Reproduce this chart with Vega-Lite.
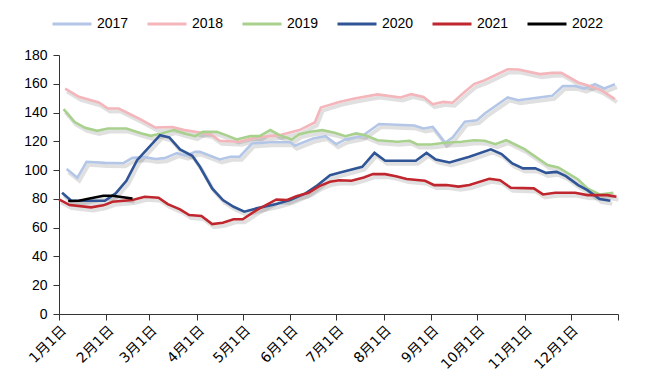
{
  "$schema": "https://vega.github.io/schema/vega-lite/v6.json",
  "width": 559,
  "height": 259,
  "autosize": {"type": "none"},
  "padding": {"left": 59, "top": 55, "right": 40, "bottom": 75},
  "background": "white",
  "config": {
    "view": {"stroke": null},
    "axis": {"grid": false, "domainColor": "#333", "tickColor": "#333", "labelColor": "#000", "labelFont": "Liberation Sans", "labelFontSize": 14, "tickSize": 6, "domainWidth": 1, "tickWidth": 1},
    "legend": {"labelFont": "Liberation Sans", "labelFontSize": 14, "labelColor": "#000"}
  },
  "data": {"values": [
    {"date":"2021-01-06","year":"2017","value":100.7},
    {"date":"2021-01-13","year":"2017","value":94.7},
    {"date":"2021-01-19","year":"2017","value":105.8},
    {"date":"2021-01-31","year":"2017","value":105},
    {"date":"2021-02-12","year":"2017","value":104.8},
    {"date":"2021-02-18","year":"2017","value":108.5},
    {"date":"2021-02-26","year":"2017","value":109},
    {"date":"2021-03-05","year":"2017","value":107.7},
    {"date":"2021-03-11","year":"2017","value":108.3},
    {"date":"2021-03-19","year":"2017","value":111.8},
    {"date":"2021-03-25","year":"2017","value":110},
    {"date":"2021-03-31","year":"2017","value":112.7},
    {"date":"2021-04-03","year":"2017","value":112.7},
    {"date":"2021-04-16","year":"2017","value":107.4},
    {"date":"2021-04-23","year":"2017","value":109.3},
    {"date":"2021-04-29","year":"2017","value":109.3},
    {"date":"2021-05-07","year":"2017","value":118.5},
    {"date":"2021-05-19","year":"2017","value":119.4},
    {"date":"2021-06-01","year":"2017","value":119.4},
    {"date":"2021-06-04","year":"2017","value":116.9},
    {"date":"2021-06-16","year":"2017","value":122},
    {"date":"2021-06-24","year":"2017","value":123.6},
    {"date":"2021-07-01","year":"2017","value":118},
    {"date":"2021-07-07","year":"2017","value":121.3},
    {"date":"2021-07-18","year":"2017","value":123.6},
    {"date":"2021-07-29","year":"2017","value":132},
    {"date":"2021-08-21","year":"2017","value":131},
    {"date":"2021-08-27","year":"2017","value":128.9},
    {"date":"2021-09-02","year":"2017","value":130},
    {"date":"2021-09-10","year":"2017","value":119},
    {"date":"2021-09-15","year":"2017","value":122.7},
    {"date":"2021-09-23","year":"2017","value":133.6},
    {"date":"2021-10-01","year":"2017","value":134.7},
    {"date":"2021-10-06","year":"2017","value":139.4},
    {"date":"2021-10-21","year":"2017","value":150.5},
    {"date":"2021-10-28","year":"2017","value":148.6},
    {"date":"2021-11-19","year":"2017","value":151.6},
    {"date":"2021-11-26","year":"2017","value":158.5},
    {"date":"2021-12-04","year":"2017","value":158.5},
    {"date":"2021-12-10","year":"2017","value":156.7},
    {"date":"2021-12-17","year":"2017","value":159.7},
    {"date":"2021-12-23","year":"2017","value":156.7},
    {"date":"2021-12-30","year":"2017","value":159.7},

    {"date":"2021-01-05","year":"2018","value":156.7},
    {"date":"2021-01-14","year":"2018","value":150.9},
    {"date":"2021-01-27","year":"2018","value":147},
    {"date":"2021-02-02","year":"2018","value":142.8},
    {"date":"2021-02-09","year":"2018","value":142.8},
    {"date":"2021-02-22","year":"2018","value":135.9},
    {"date":"2021-03-05","year":"2018","value":129.6},
    {"date":"2021-03-16","year":"2018","value":130},
    {"date":"2021-03-24","year":"2018","value":127.8},
    {"date":"2021-03-31","year":"2018","value":126.6},
    {"date":"2021-04-10","year":"2018","value":125},
    {"date":"2021-04-16","year":"2018","value":120.4},
    {"date":"2021-04-29","year":"2018","value":119.7},
    {"date":"2021-05-10","year":"2018","value":122.7},
    {"date":"2021-05-25","year":"2018","value":124.3},
    {"date":"2021-06-07","year":"2018","value":127.8},
    {"date":"2021-06-17","year":"2018","value":133.1},
    {"date":"2021-06-21","year":"2018","value":143.5},
    {"date":"2021-07-03","year":"2018","value":147.4},
    {"date":"2021-07-13","year":"2018","value":149.8},
    {"date":"2021-07-28","year":"2018","value":152.6},
    {"date":"2021-08-12","year":"2018","value":150.5},
    {"date":"2021-08-19","year":"2018","value":152.8},
    {"date":"2021-08-27","year":"2018","value":150.9},
    {"date":"2021-09-02","year":"2018","value":145.8},
    {"date":"2021-09-09","year":"2018","value":147.4},
    {"date":"2021-09-15","year":"2018","value":146.8},
    {"date":"2021-09-23","year":"2018","value":154.4},
    {"date":"2021-09-29","year":"2018","value":159.8},
    {"date":"2021-10-06","year":"2018","value":162.5},
    {"date":"2021-10-21","year":"2018","value":170.1},
    {"date":"2021-10-28","year":"2018","value":169.9},
    {"date":"2021-11-11","year":"2018","value":166.7},
    {"date":"2021-11-19","year":"2018","value":167.6},
    {"date":"2021-11-25","year":"2018","value":167.6},
    {"date":"2021-12-06","year":"2018","value":160.9},
    {"date":"2021-12-15","year":"2018","value":158},
    {"date":"2021-12-21","year":"2018","value":155.6},
    {"date":"2021-12-30","year":"2018","value":149.3},

    {"date":"2021-01-04","year":"2019","value":142.4},
    {"date":"2021-01-11","year":"2019","value":133.6},
    {"date":"2021-01-18","year":"2019","value":129.4},
    {"date":"2021-01-26","year":"2019","value":127.3},
    {"date":"2021-02-02","year":"2019","value":128.9},
    {"date":"2021-02-14","year":"2019","value":128.9},
    {"date":"2021-02-24","year":"2019","value":125.5},
    {"date":"2021-03-02","year":"2019","value":123.8},
    {"date":"2021-03-09","year":"2019","value":125.5},
    {"date":"2021-03-17","year":"2019","value":127.8},
    {"date":"2021-03-24","year":"2019","value":125.5},
    {"date":"2021-03-31","year":"2019","value":123.6},
    {"date":"2021-04-05","year":"2019","value":126.6},
    {"date":"2021-04-14","year":"2019","value":126.6},
    {"date":"2021-04-20","year":"2019","value":124.3},
    {"date":"2021-04-27","year":"2019","value":121.3},
    {"date":"2021-05-06","year":"2019","value":123.6},
    {"date":"2021-05-12","year":"2019","value":123.6},
    {"date":"2021-05-19","year":"2019","value":127.8},
    {"date":"2021-05-25","year":"2019","value":124.3},
    {"date":"2021-06-02","year":"2019","value":121.3},
    {"date":"2021-06-07","year":"2019","value":125},
    {"date":"2021-06-14","year":"2019","value":126.6},
    {"date":"2021-06-22","year":"2019","value":127.8},
    {"date":"2021-06-30","year":"2019","value":126},
    {"date":"2021-07-07","year":"2019","value":123.6},
    {"date":"2021-07-14","year":"2019","value":125.5},
    {"date":"2021-07-20","year":"2019","value":124.3},
    {"date":"2021-07-28","year":"2019","value":120.8},
    {"date":"2021-08-10","year":"2019","value":119.7},
    {"date":"2021-08-18","year":"2019","value":120.4},
    {"date":"2021-08-23","year":"2019","value":117.8},
    {"date":"2021-09-01","year":"2019","value":117.8},
    {"date":"2021-09-10","year":"2019","value":119},
    {"date":"2021-09-21","year":"2019","value":119.7},
    {"date":"2021-09-29","year":"2019","value":120.8},
    {"date":"2021-10-06","year":"2019","value":120.4},
    {"date":"2021-10-13","year":"2019","value":118},
    {"date":"2021-10-20","year":"2019","value":120.8},
    {"date":"2021-11-01","year":"2019","value":114.6},
    {"date":"2021-11-16","year":"2019","value":103.5},
    {"date":"2021-11-23","year":"2019","value":101.9},
    {"date":"2021-12-06","year":"2019","value":93.5},
    {"date":"2021-12-12","year":"2019","value":87.3},
    {"date":"2021-12-20","year":"2019","value":83.1},
    {"date":"2021-12-29","year":"2019","value":84.3},

    {"date":"2021-01-03","year":"2020","value":84.3},
    {"date":"2021-01-09","year":"2020","value":78.7},
    {"date":"2021-01-20","year":"2020","value":78.7},
    {"date":"2021-01-31","year":"2020","value":78.7},
    {"date":"2021-02-07","year":"2020","value":83.8},
    {"date":"2021-02-14","year":"2020","value":92.6},
    {"date":"2021-02-21","year":"2020","value":106.9},
    {"date":"2021-02-27","year":"2020","value":113.9},
    {"date":"2021-03-08","year":"2020","value":124.3},
    {"date":"2021-03-14","year":"2020","value":122.7},
    {"date":"2021-03-21","year":"2020","value":114.4},
    {"date":"2021-03-29","year":"2020","value":110},
    {"date":"2021-04-03","year":"2020","value":102.3},
    {"date":"2021-04-11","year":"2020","value":87.3},
    {"date":"2021-04-18","year":"2020","value":79.2},
    {"date":"2021-04-25","year":"2020","value":74.5},
    {"date":"2021-05-02","year":"2020","value":71.1},
    {"date":"2021-05-10","year":"2020","value":73.4},
    {"date":"2021-05-23","year":"2020","value":76.4},
    {"date":"2021-06-01","year":"2020","value":79.2},
    {"date":"2021-06-11","year":"2020","value":83.8},
    {"date":"2021-06-19","year":"2020","value":89.6},
    {"date":"2021-06-27","year":"2020","value":96.5},
    {"date":"2021-07-03","year":"2020","value":98.1},
    {"date":"2021-07-18","year":"2020","value":102.3},
    {"date":"2021-07-26","year":"2020","value":112},
    {"date":"2021-08-02","year":"2020","value":106.5},
    {"date":"2021-08-22","year":"2020","value":106.5},
    {"date":"2021-08-29","year":"2020","value":112},
    {"date":"2021-09-04","year":"2020","value":107.4},
    {"date":"2021-09-13","year":"2020","value":105.3},
    {"date":"2021-09-26","year":"2020","value":109.3},
    {"date":"2021-10-10","year":"2020","value":114.4},
    {"date":"2021-10-17","year":"2020","value":111.1},
    {"date":"2021-10-24","year":"2020","value":104.6},
    {"date":"2021-10-31","year":"2020","value":101.2},
    {"date":"2021-11-08","year":"2020","value":101.2},
    {"date":"2021-11-15","year":"2020","value":98.1},
    {"date":"2021-11-22","year":"2020","value":98.8},
    {"date":"2021-11-28","year":"2020","value":95.8},
    {"date":"2021-12-06","year":"2020","value":89.6},
    {"date":"2021-12-12","year":"2020","value":86.1},
    {"date":"2021-12-20","year":"2020","value":79.9},
    {"date":"2021-12-27","year":"2020","value":78.7},

    {"date":"2021-01-01","year":"2021","value":79.6},
    {"date":"2021-01-08","year":"2021","value":75.7},
    {"date":"2021-01-22","year":"2021","value":74.1},
    {"date":"2021-01-30","year":"2021","value":75.5},
    {"date":"2021-02-05","year":"2021","value":78},
    {"date":"2021-02-18","year":"2021","value":79.2},
    {"date":"2021-02-26","year":"2021","value":81.5},
    {"date":"2021-03-07","year":"2021","value":80.8},
    {"date":"2021-03-13","year":"2021","value":76.4},
    {"date":"2021-03-21","year":"2021","value":72.7},
    {"date":"2021-03-27","year":"2021","value":68.8},
    {"date":"2021-04-04","year":"2021","value":68.1},
    {"date":"2021-04-11","year":"2021","value":62.5},
    {"date":"2021-04-18","year":"2021","value":63.4},
    {"date":"2021-04-25","year":"2021","value":65.8},
    {"date":"2021-05-01","year":"2021","value":65.8},
    {"date":"2021-05-10","year":"2021","value":72.2},
    {"date":"2021-05-23","year":"2021","value":79.6},
    {"date":"2021-05-30","year":"2021","value":79.2},
    {"date":"2021-06-05","year":"2021","value":81.9},
    {"date":"2021-06-13","year":"2021","value":84.3},
    {"date":"2021-06-20","year":"2021","value":88.9},
    {"date":"2021-06-27","year":"2021","value":91.9},
    {"date":"2021-07-03","year":"2021","value":93},
    {"date":"2021-07-11","year":"2021","value":92.6},
    {"date":"2021-07-19","year":"2021","value":94.9},
    {"date":"2021-07-25","year":"2021","value":97.2},
    {"date":"2021-08-02","year":"2021","value":97.2},
    {"date":"2021-08-09","year":"2021","value":95.8},
    {"date":"2021-08-16","year":"2021","value":93.8},
    {"date":"2021-08-28","year":"2021","value":92.6},
    {"date":"2021-09-03","year":"2021","value":89.6},
    {"date":"2021-09-11","year":"2021","value":89.6},
    {"date":"2021-09-19","year":"2021","value":88.5},
    {"date":"2021-09-26","year":"2021","value":89.6},
    {"date":"2021-10-09","year":"2021","value":94},
    {"date":"2021-10-16","year":"2021","value":93},
    {"date":"2021-10-23","year":"2021","value":87.7},
    {"date":"2021-11-07","year":"2021","value":87.3},
    {"date":"2021-11-13","year":"2021","value":83.1},
    {"date":"2021-11-21","year":"2021","value":84.3},
    {"date":"2021-12-04","year":"2021","value":84.3},
    {"date":"2021-12-12","year":"2021","value":82.6},
    {"date":"2021-12-25","year":"2021","value":82.6},
    {"date":"2021-12-31","year":"2021","value":81.5},

    {"date":"2021-01-07","year":"2022","value":78.5},
    {"date":"2021-01-14","year":"2022","value":78.7},
    {"date":"2021-01-21","year":"2022","value":80.3},
    {"date":"2021-01-30","year":"2022","value":82.2},
    {"date":"2021-02-05","year":"2022","value":82.2},
    {"date":"2021-02-13","year":"2022","value":81},
    {"date":"2021-02-18","year":"2022","value":80.3}
  ]},
  "encoding": {
    "x": {
      "field": "date", "type": "temporal",
      "scale": {"type": "utc", "domain": [{"year": 2021, "month": 1, "date": 1, "utc": true}, {"year": 2022, "month": 1, "date": 1, "utc": true}], "nice": false},
      "axis": {
        "title": null,
        "values": [
          {"year": 2021, "month": 1, "date": 1, "utc": true},
          {"year": 2021, "month": 2, "date": 1, "utc": true},
          {"year": 2021, "month": 3, "date": 1, "utc": true},
          {"year": 2021, "month": 4, "date": 1, "utc": true},
          {"year": 2021, "month": 5, "date": 1, "utc": true},
          {"year": 2021, "month": 6, "date": 1, "utc": true},
          {"year": 2021, "month": 7, "date": 1, "utc": true},
          {"year": 2021, "month": 8, "date": 1, "utc": true},
          {"year": 2021, "month": 9, "date": 1, "utc": true},
          {"year": 2021, "month": 10, "date": 1, "utc": true},
          {"year": 2021, "month": 11, "date": 1, "utc": true},
          {"year": 2021, "month": 12, "date": 1, "utc": true},
          {"year": 2022, "month": 1, "date": 1, "utc": true}
        ],
        "labelExpr": "utcyear(datum.value) > 2021 ? '' : utcFormat(datum.value, '%-m月%-d日')",
        "labelAngle": -45,
        "labelFont": "DejaVu Sans, Noto Sans CJK SC",
        "labelFontSize": 14,
        "labelPadding": 3,
        "labelOverlap": false,
        "labelFlush": false
      }
    },
    "y": {
      "field": "value", "type": "quantitative",
      "scale": {"domain": [0, 180], "nice": false},
      "axis": {"title": null, "values": [0,20,40,60,80,100,120,140,160,180], "labelPadding": 6}
    }
  },
  "layer": [
    {
      "mark": {"type": "line", "strokeWidth": 4, "color": "#000", "opacity": 0.12, "xOffset": 2, "yOffset": 3},
      "encoding": {"detail": {"field": "year"}}
    },
    {
      "mark": {"type": "line", "strokeWidth": 2.6},
      "encoding": {
        "color": {
          "field": "year", "type": "nominal",
          "scale": {"domain": ["2017","2018","2019","2020","2021","2022"], "range": ["#b4c6e7","#f4b5bb","#a9d18e","#2f5597","#c0262d","#000000"]},
          "legend": {"title": null, "orient": "none", "legendX": -8, "legendY": -52, "direction": "horizontal", "symbolType": "stroke", "symbolSize": 1521, "symbolStrokeWidth": 3, "labelOffset": 4, "columnPadding": 12}
        }
      }
    }
  ]
}
